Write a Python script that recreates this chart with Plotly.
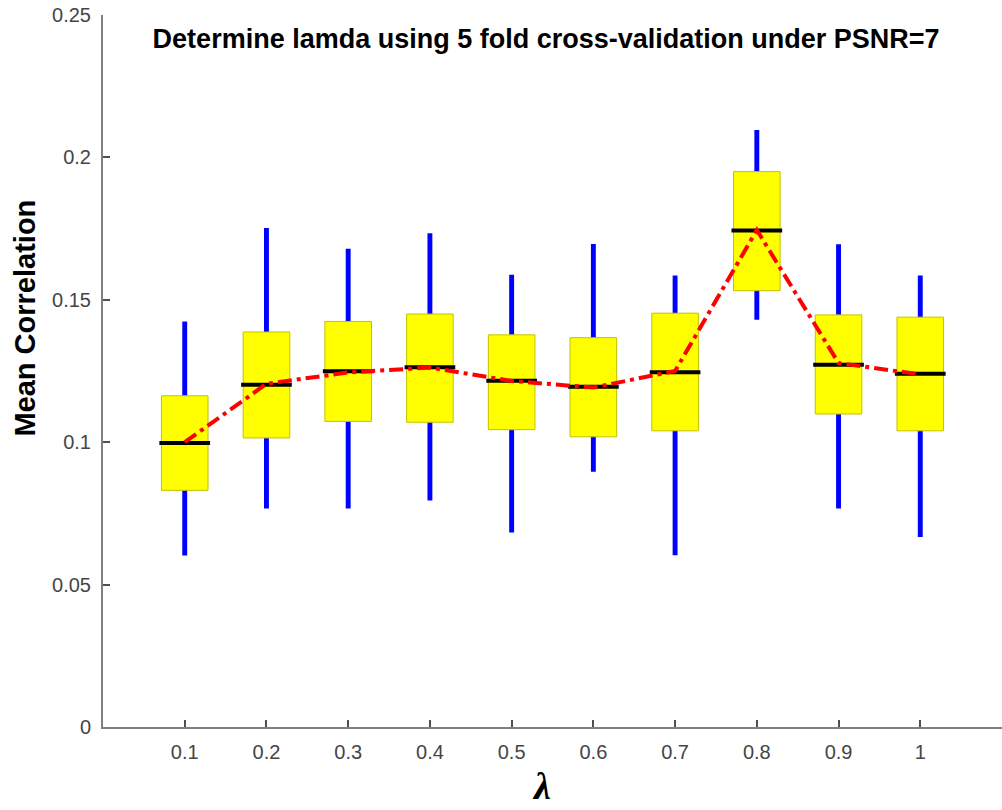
import plotly.graph_objects as go

lambdas = [0.1, 0.2, 0.3, 0.4, 0.5, 0.6, 0.7, 0.8, 0.9, 1.0]
tick_labels = ["0.1", "0.2", "0.3", "0.4", "0.5", "0.6", "0.7", "0.8", "0.9", "1"]
whisker_low = [0.0602, 0.0767, 0.0767, 0.0795, 0.0683, 0.0896, 0.0603, 0.1430, 0.0767, 0.0667]
q1 = [0.0831, 0.1015, 0.1073, 0.1070, 0.1044, 0.1019, 0.1040, 0.1532, 0.1099, 0.1040]
median = [0.0997, 0.1202, 0.1249, 0.1263, 0.1216, 0.1195, 0.1246, 0.1743, 0.1272, 0.1240]
q3 = [0.1163, 0.1387, 0.1424, 0.1450, 0.1377, 0.1367, 0.1453, 0.1950, 0.1447, 0.1439]
whisker_high = [0.1424, 0.1752, 0.1679, 0.1734, 0.1588, 0.1696, 0.1585, 0.2096, 0.1695, 0.1585]
mean_line = [0.1000, 0.1205, 0.1245, 0.1262, 0.1215, 0.1192, 0.1250, 0.1745, 0.1278, 0.1238]

y_ticks = [0, 0.05, 0.1, 0.15, 0.2, 0.25]
y_tick_labels = ["0", "0.05", "0.1", "0.15", "0.2", "0.25"]

box_w = 0.057
med_half = 0.031

fig = go.Figure()

# whiskers
fig.add_trace(go.Bar(
    x=lambdas,
    base=whisker_low,
    y=[h - l for h, l in zip(whisker_high, whisker_low)],
    width=0.006,
    marker=dict(color="#0000ff", line=dict(width=0)),
    hoverinfo="skip",
))
# boxes
fig.add_trace(go.Bar(
    x=lambdas,
    base=q1,
    y=[b - a for a, b in zip(q1, q3)],
    width=box_w,
    marker=dict(color="#ffff00", line=dict(color="#c2c200", width=1)),
    hoverinfo="skip",
))

# medians
mx, my = [], []
for x, m in zip(lambdas, median):
    mx += [x - med_half, x + med_half, None]
    my += [m, m, None]
fig.add_trace(go.Scatter(
    x=mx, y=my, mode="lines",
    line=dict(color="#000000", width=4),
    hoverinfo="skip",
))

# mean line
fig.add_trace(go.Scatter(
    x=lambdas, y=mean_line, mode="lines",
    line=dict(color="#ff0000", width=4, dash="14px,5px,4px,5px"),
    hoverinfo="skip",
))

fig.update_layout(
    width=1002, height=810,
    margin=dict(l=103, r=0, t=15, b=82.5),
    barmode="overlay",
    showlegend=False,
    plot_bgcolor="white",
    paper_bgcolor="white",
    font=dict(family="Liberation Sans, Arial, sans-serif"),
    title=dict(
        text="<b>Determine lamda using 5 fold cross-validation under PSNR=7</b>",
        x=0.545, xanchor="center", y=1 - 39 / 810, yanchor="middle",
        font=dict(size=27, color="#000000", family="Liberation Sans, Arial, sans-serif"),
    ),
    annotations=[
        dict(text="<b>Mean Correlation</b>", textangle=-90,
             xref="paper", yref="paper", x=-0.0868, y=0.575,
             xanchor="center", yanchor="middle", showarrow=False,
             font=dict(size=29, color="#000000", family="Liberation Sans, Arial, sans-serif")),
        dict(text="<b><i>λ</i></b>",
             xref="paper", yref="paper", x=0.488, y=-0.0835,
             xanchor="center", yanchor="middle", showarrow=False,
             font=dict(size=38, color="#000000", family="Liberation Serif, Times New Roman, serif")),
    ],
)

fig.update_xaxes(
    range=[0, 1.1], automargin=False,
    tickvals=lambdas, ticktext=tick_labels,
    ticks="inside", ticklen=7, tickwidth=2, tickcolor="#505050",
    showline=True, linecolor="#808080", linewidth=2,
    showgrid=False, zeroline=False,
    tickfont=dict(size=20, color="#454545"),
    ticklabelstandoff=6,
    ticklabeloverflow="allow",
)
fig.update_yaxes(
    range=[0, 0.25], automargin=False,
    tickvals=y_ticks, ticktext=y_tick_labels,
    ticks="inside", ticklen=7, tickwidth=2, tickcolor="#505050",
    showline=True, linecolor="#808080", linewidth=2,
    showgrid=False, zeroline=False,
    tickfont=dict(size=20, color="#454545"),
    ticklabelstandoff=6,
    ticklabeloverflow="allow",
)

fig.write_html("out.html", config={"displayModeBar": False},
               post_script="document.body.style.margin='0';")
